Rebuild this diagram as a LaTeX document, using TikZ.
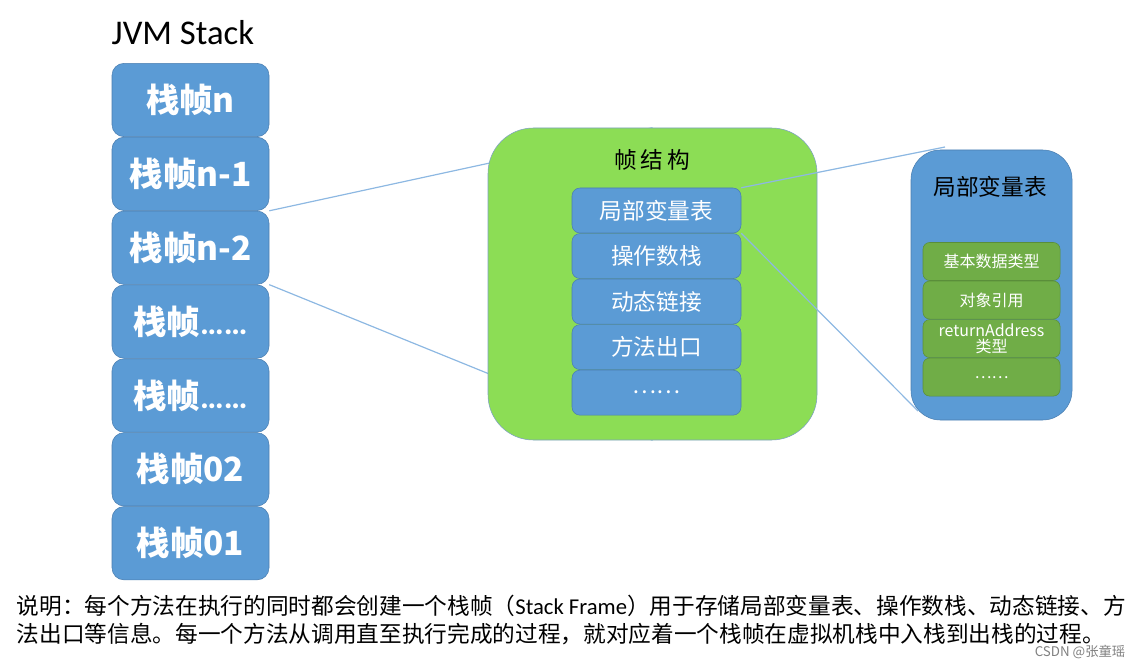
\documentclass[tikz,border=0pt]{standalone}
\usepackage{fontspec}
\setmainfont{Noto Sans CJK SC}
\newfontfamily\latinfont{Carlito}
\usetikzlibrary{positioning,backgrounds}
\definecolor{stackblue}{HTML}{5B9BD5}
\definecolor{stackedge}{HTML}{4A7EB0}
\definecolor{framegreen}{HTML}{8CDD55}
\definecolor{frameedge}{HTML}{7C9FC4}
\definecolor{slotgreen}{HTML}{70AD47}
\definecolor{slotedge}{HTML}{5A8E3A}
\definecolor{linkblue}{HTML}{8DB8E2}
\tikzset{
  stackbox/.style={draw=stackedge,fill=stackblue,rounded corners=9pt,
    minimum width=117.75pt,minimum height=55pt,inner sep=0pt,text=white,
    font=\fontsize{25}{29}\selectfont\bfseries},
  framebox/.style={draw=frameedge,fill=framegreen,rounded corners=34pt,
    minimum width=246.75pt,minimum height=234pt},
  partbox/.style={draw=stackedge,fill=stackblue,rounded corners=6pt,
    minimum width=126.75pt,minimum height=33.75pt,inner sep=0pt,text=white,
    font=\fontsize{17}{20}\selectfont},
  lvtbox/.style={draw=stackedge,fill=stackblue,rounded corners=22pt,
    minimum width=120.75pt,minimum height=202.5pt},
  typebox/.style={draw=slotedge,fill=slotgreen,rounded corners=5pt,
    minimum width=102.75pt,minimum height=28.5pt,inner sep=0pt,text=white,
    align=center,font=\fontsize{12}{12}\selectfont},
  link/.style={draw=linkblue,line width=0.9pt}
}
\begin{document}
\begin{tikzpicture}[x=0.75pt,y=-0.75pt]
  \useasboundingbox (0,0) rectangle (1141,670);
  \node (jvm) [anchor=west,font=\latinfont\fontsize{26}{30}\selectfont] at (107,33) {JVM Stack};
  \node (fn) [stackbox] at (190.5,100) {栈帧n};
  \node (fn1) [stackbox,below=0pt of fn] {栈帧n-1};
  \node (fn2) [stackbox,below=0pt of fn1] {栈帧n-2};
  \node (fdots1) [stackbox,below=0pt of fn2] {栈帧{\latinfont ……}};
  \node (fdots2) [stackbox,below=0pt of fdots1] {栈帧{\latinfont ……}};
  \node (f02) [stackbox,below=0pt of fdots2] {栈帧02};
  \node (f01) [stackbox,below=0pt of f02] {栈帧01};

  \node (frame) [framebox] at (652.5,284) {};
  \node (ftitle) [font=\fontsize{17}{20}\selectfont] at (652,160) {帧\hspace{3pt}结\hspace{3pt}构};
  \node (lvt) [partbox] at (656.5,210.5) {局部变量表};
  \node (ops) [partbox,below=0pt of lvt] {操作数栈};
  \node (dyn) [partbox,below=0pt of ops] {动态链接};
  \node (ret) [partbox,below=0pt of dyn] {方法出口};
  \node (more) [partbox,below=0pt of ret] {……};

  \node (lvtab) [lvtbox] at (991.5,285) {};
  \node (ltitle) [font=\fontsize{17}{20}\selectfont] at (990,187) {局部变量表};
  \node (prim) [typebox] at (991.5,261.5) {基本数据类型};
  \node (oref) [typebox,below=0pt of prim] {对象引用};
  \node (raddr) [typebox,below=0pt of oref] {returnAddress\\类型};
  \node (etc) [typebox,below=0pt of raddr] {……};

  \coordinate (lvtin) at (945,147);
  \coordinate (lvtfoot) at (918,411);
  \begin{scope}[on background layer]
    \draw [link] (fn2.north east) -- (frame.north);
    \draw [link] (fn2.south east) -- (frame.south);
  \end{scope}
  \draw [link] (lvt.north east) -- (lvtin);
  \draw [link] (ops.north east) -- (lvtfoot);

  \node (note) [anchor=north west,align=left,font=\fontsize{17}{21}\selectfont] at (12,590)
    {说明：每个方法在执行的同时都会创建一个栈帧（{\latinfont Stack Frame}）用于存储局部变量表、操作数栈、动态链接、方\\
     法出口等信息。每一个方法从调用直至执行完成的过程，就对应着一个栈帧在虚拟机栈中入栈到出栈的过程。};
  \node (credit) [anchor=east,text=gray,font=\fontsize{10}{12}\selectfont] at (1130,652) {CSDN @张童瑶};
\end{tikzpicture}
\end{document}
